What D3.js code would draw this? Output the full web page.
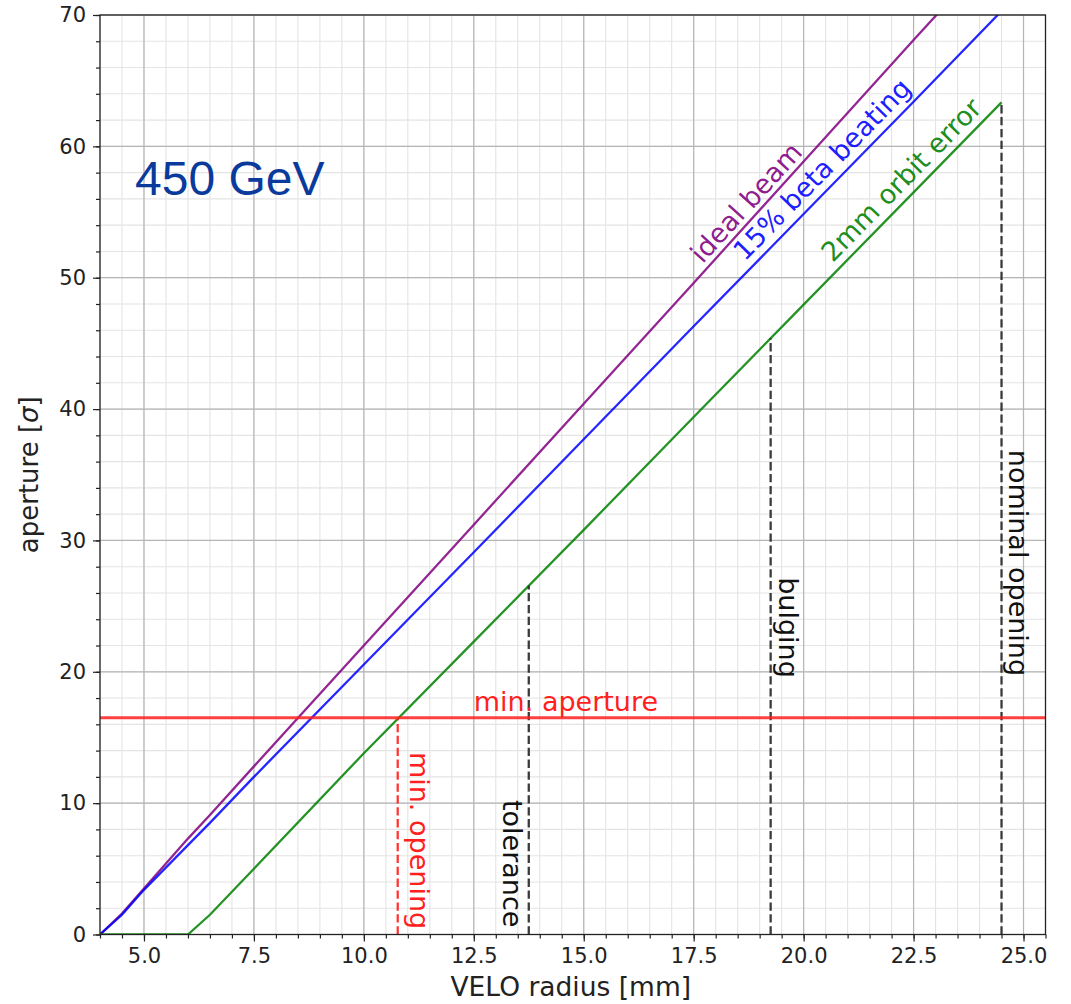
<!DOCTYPE html>
<html>
<head>
<meta charset="utf-8">
<script src="https://cdn.jsdelivr.net/npm/d3@7"></script>
<style>
  body { margin: 0; background: #fff; }
  svg { display: block; }
  text { font-family: "DejaVu Sans", sans-serif; }
</style>
</head>
<body>
<svg id="chart" width="1071" height="1004"></svg>
<script>
// VELO radius [mm] sample positions shared by the three aperture curves
const radius      = [4.0, 4.5, 5.0, 6.0, 6.5, 7.5, 10.0, 12.5, 15.0, 17.5, 20.0, 22.5, 24.5];
// aperture in units of beam sigma
const idealBeam   = [0, 1.6, 3.5, 7.3, 9.1, 12.8, 22.0, 31.2, 40.4, 49.6, 58.85, 68.1, 75.4];
const betaBeating = [0, 1.5, 3.4, 6.8, 8.5, 12.0, 20.55, 29.1, 37.7, 46.3, 54.85, 63.4, 70.3];
const orbitError  = [0, 0, 0, 0, 1.5, 5.0, 13.8, 22.3, 30.8, 39.4, 47.95, 56.5, 63.35];
const seriesNames = ["ideal beam", "15% beta beating", "2mm orbit error"];

const minAperture = 16.5;
const minApertureName = "min. aperture";

// VELO openings, each dashed line rising to the 2mm-orbit-error curve
const markerRadius = [10.77, 13.75, 19.25, 24.5];
const markerNames  = ["min. opening", "tolerance", "bulging", "nominal opening"];

const xTicks = [5.0, 7.5, 10.0, 12.5, 15.0, 17.5, 20.0, 22.5, 25.0];
const yTicks = [0, 10, 20, 30, 40, 50, 60, 70];
const energyLabel = "450 GeV";

// ---- layout ----
const m = { left: 100, right: 1045.5, top: 15, bottom: 934.5 };
const svg = d3.select("#chart");

const x = d3.scaleLinear().domain([4.0, 25.5]).range([m.left, m.right]);
const y = d3.scaleLinear().domain([0, 70]).range([m.bottom, m.top]);

const xMinor = d3.range(4.0, 25.5001, 0.5);
const yMinor = d3.range(0, 70.001, 2);

// grid
const grid = svg.append("g");
grid.selectAll("line.vminor").data(xMinor).join("line")
  .attr("x1", d => x(d)).attr("x2", d => x(d)).attr("y1", m.top).attr("y2", m.bottom)
  .attr("stroke", "#e4e4e4").attr("stroke-width", 1.1);
grid.selectAll("line.hminor").data(yMinor).join("line")
  .attr("y1", d => y(d)).attr("y2", d => y(d)).attr("x1", m.left).attr("x2", m.right)
  .attr("stroke", "#e4e4e4").attr("stroke-width", 1.1);
grid.selectAll("line.vmajor").data(xTicks).join("line")
  .attr("x1", d => x(d)).attr("x2", d => x(d)).attr("y1", m.top).attr("y2", m.bottom)
  .attr("stroke", "#b5b5b5").attr("stroke-width", 1.2);
grid.selectAll("line.hmajor").data(yTicks).join("line")
  .attr("y1", d => y(d)).attr("y2", d => y(d)).attr("x1", m.left).attr("x2", m.right)
  .attr("stroke", "#b5b5b5").attr("stroke-width", 1.2);

// clip for curves
svg.append("clipPath").attr("id", "plotclip").append("rect")
  .attr("x", m.left).attr("y", m.top).attr("width", m.right - m.left).attr("height", m.bottom - m.top);

const series = [
  { name: seriesNames[0], values: idealBeam,   color: "#800080" },
  { name: seriesNames[1], values: betaBeating, color: "#0000ff" },
  { name: seriesNames[2], values: orbitError,  color: "#008000" }
];

const line = d3.line().x(d => x(d[0])).y(d => y(d[1]));
const curves = svg.append("g").attr("clip-path", "url(#plotclip)");
series.forEach(s => {
  curves.append("path")
    .datum(radius.map((r, i) => [r, s.values[i]]))
    .attr("d", line).attr("fill", "none")
    .attr("stroke", s.color).attr("stroke-opacity", 0.85).attr("stroke-width", 2.3);
});

// interpolate the orbit-error curve at a given radius
const orbitAt = r => {
  const i = d3.bisectRight(radius, r) - 1;
  const j = Math.min(i + 1, radius.length - 1);
  if (i === j) return orbitError[i];
  const t = (r - radius[i]) / (radius[j] - radius[i]);
  return orbitError[i] + t * (orbitError[j] - orbitError[i]);
};

// vertical opening markers
const markerColors = ["#ff2020", "#262626", "#262626", "#262626"];
const markerTextPos = [[11.05, 13.9], [13.16, 10.24], [19.45, 27.2], [24.66, 36.9]];
markerRadius.forEach((r, i) => {
  svg.append("line")
    .attr("x1", x(r)).attr("x2", x(r))
    .attr("y1", y(0)).attr("y2", y(orbitAt(r)))
    .attr("stroke", markerColors[i]).attr("stroke-width", 2.3)
    .attr("stroke-dasharray", "8.3,3.6").attr("stroke-opacity", 0.9);
  const [tx, ty] = markerTextPos[i];
  svg.append("text")
    .attr("transform", `translate(${x(tx)},${y(ty)}) rotate(90)`)
    .attr("font-size", 27).attr("fill", i === 0 ? "#ff2020" : "#111")
    .text(markerNames[i]);
});

// minimum aperture line
svg.append("line")
  .attr("x1", m.left).attr("x2", m.right)
  .attr("y1", y(minAperture)).attr("y2", y(minAperture))
  .attr("stroke", "#ff1f1f").attr("stroke-opacity", 0.85).attr("stroke-width", 3);
svg.append("text")
  .attr("x", x(12.5)).attr("y", y(17.05))
  .attr("font-size", 27).attr("fill", "#ff1f1f")
  .text(minApertureName);

// curve labels, rotated along each curve
const labelPos = [[17.7, 51.0], [18.66, 51.2], [20.66, 51.1]];
series.forEach((s, i) => {
  const i0 = radius.indexOf(10.0), i1 = radius.indexOf(20.0);
  const ang = Math.atan2(y(s.values[i1]) - y(s.values[i0]), x(radius[i1]) - x(radius[i0])) * 180 / Math.PI;
  svg.append("text")
    .attr("transform", `translate(${x(labelPos[i][0])},${y(labelPos[i][1])}) rotate(${ang})`)
    .attr("font-size", 27).attr("fill", s.color).attr("fill-opacity", 0.9)
    .text(s.name);
});

// axes
const fmt = d3.format(".1f");
const xAxis = svg.append("g").attr("transform", `translate(0,${m.bottom})`)
  .call(d3.axisBottom(x).tickValues(xTicks).tickFormat(fmt).tickSize(7).tickPadding(7).tickSizeOuter(0));
const xAxisMinor = svg.append("g").attr("transform", `translate(0,${m.bottom})`)
  .call(d3.axisBottom(x).tickValues(xMinor).tickFormat("").tickSize(4).tickSizeOuter(0));
const yAxis = svg.append("g").attr("transform", `translate(${m.left},0)`)
  .call(d3.axisLeft(y).tickValues(yTicks).tickFormat(d3.format("d")).tickSize(7).tickPadding(7).tickSizeOuter(0));
const yAxisMinor = svg.append("g").attr("transform", `translate(${m.left},0)`)
  .call(d3.axisLeft(y).tickValues(yMinor).tickFormat("").tickSize(4).tickSizeOuter(0));

[xAxis, xAxisMinor, yAxis, yAxisMinor].forEach(g => {
  g.select(".domain").remove();
  g.selectAll(".tick line").attr("stroke", "#222").attr("stroke-width", 1.2);
  g.selectAll(".tick text").attr("font-family", "DejaVu Sans").attr("font-size", 21).attr("fill", "#222");
});

// spines
svg.append("rect")
  .attr("x", m.left).attr("y", m.top).attr("width", m.right - m.left).attr("height", m.bottom - m.top)
  .attr("fill", "none").attr("stroke", "#222").attr("stroke-width", 1.3);

// axis titles
svg.append("text")
  .attr("x", (m.left + m.right) / 2 - 2).attr("y", 996)
  .attr("text-anchor", "middle").attr("font-size", 26.5).attr("fill", "#222")
  .text("VELO radius [mm]");

const yl = svg.append("text")
  .attr("transform", `translate(38,${(m.top + m.bottom) / 2}) rotate(-90)`)
  .attr("text-anchor", "middle").attr("font-size", 26).attr("fill", "#222");
yl.append("tspan").text("aperture [");
yl.append("tspan").attr("font-style", "italic").text("σ");
yl.append("tspan").text("]");

// beam energy
svg.append("text")
  .attr("x", 135).attr("y", 195)
  .style("font-family", "'Liberation Sans', Arial, sans-serif")
  .attr("font-size", 48).attr("fill", "#0a3a9c")
  .text(energyLabel);
</script>
</body>
</html>
